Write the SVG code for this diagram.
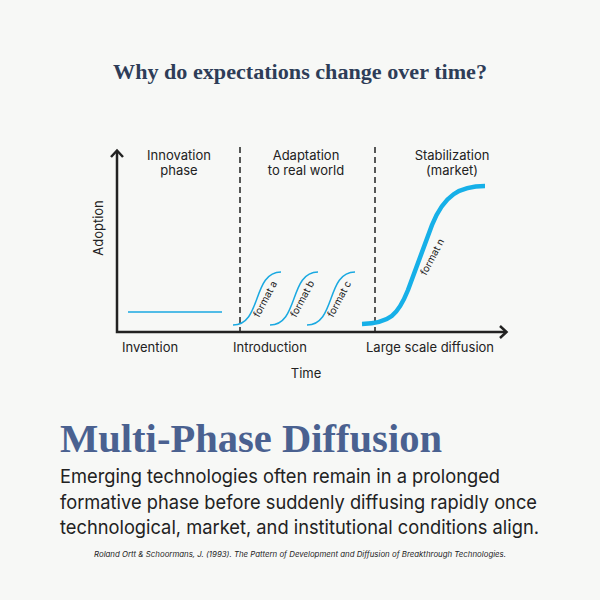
<svg xmlns="http://www.w3.org/2000/svg" width="600" height="600" viewBox="0 0 600 600">
<style>
.lbl{font-family:Inter,"Liberation Sans",sans-serif;font-size:13px;fill:#222;}
.fmt{font-family:Inter,"Liberation Sans",sans-serif;font-size:10px;fill:#222;}
.axis{stroke:#222;stroke-width:2.5;fill:none;}
.dash{stroke:#222;stroke-width:1.5;stroke-dasharray:6 4;fill:none;}
.thin{stroke:#1aa9e1;stroke-width:1.5;fill:none;}
.thick{stroke:#16b0e8;stroke-width:4.5;fill:none;stroke-linecap:butt;}
</style>
<rect width="600" height="600" fill="#f7f8f6"/>
<text x="300" y="79" text-anchor="middle" font-family="'Liberation Serif',serif" font-weight="bold" font-size="20" fill="#2e3d58" textLength="374" lengthAdjust="spacingAndGlyphs">Why do expectations change over time?</text>

<g id="connectors">
<path class="axis" d="M117,152 V332 H506"/>
<path class="axis" d="M111,157 L117,150.5 L123,157"/>
<path class="axis" d="M500,326 L506.5,332 L500,338"/>
<path class="dash" d="M240,147 V332"/>
<path class="dash" d="M375,147 V332"/>
</g>

<g id="phase-labels">
<text class="lbl" x="179" y="160" text-anchor="middle">Innovation</text>
<text class="lbl" x="179" y="175" text-anchor="middle">phase</text>
<text class="lbl" x="306" y="160" text-anchor="middle">Adaptation</text>
<text class="lbl" x="306" y="175" text-anchor="middle">to real world</text>
<text class="lbl" x="452" y="160" text-anchor="middle">Stabilization</text>
<text class="lbl" x="452" y="175" text-anchor="middle">(market)</text>
<text class="lbl" transform="translate(103,228) rotate(-90)" text-anchor="middle">Adoption</text>
<text class="lbl" x="122" y="352">Invention</text>
<text class="lbl" x="233" y="352">Introduction</text>
<text class="lbl" x="366" y="352">Large scale diffusion</text>
<text class="lbl" x="306" y="378" text-anchor="middle">Time</text>
</g>

<g id="invention-line">
<path class="thin" stroke-width="2" d="M128,312 H222"/>
</g>
<g id="format-a">
<path class="thin" d="M233,325 C262,325 252,272 281,272"/>
<text class="fmt" transform="translate(259,318) rotate(-62)">format a</text>
</g>
<g id="format-b">
<path class="thin" d="M270,325 C299,325 289,272 318,272"/>
<text class="fmt" transform="translate(296,318) rotate(-62)">format b</text>
</g>
<g id="format-c">
<path class="thin" d="M307,325 C336,325 326,272 355,272"/>
<text class="fmt" transform="translate(333,318) rotate(-62)">format c</text>
</g>
<g id="format-n">
<path class="thick" d="M362,324 C390,323 398,315 408,290 L432,225 C444,195 460,186 485,186"/>
<text class="fmt" transform="translate(426,276) rotate(-62)">format n</text>
</g>

<text x="60" y="452" font-family="'Liberation Serif',serif" font-weight="bold" font-size="40" fill="#4a6190" textLength="382" lengthAdjust="spacingAndGlyphs">Multi-Phase Diffusion</text>
<g font-family="Inter,'Liberation Sans',sans-serif" font-size="19" fill="#222">
<text x="60" y="483" textLength="440" lengthAdjust="spacingAndGlyphs">Emerging technologies often remain in a prolonged</text>
<text x="60" y="509" textLength="477" lengthAdjust="spacingAndGlyphs">formative phase before suddenly diffusing rapidly once</text>
<text x="60" y="534" textLength="479" lengthAdjust="spacingAndGlyphs">technological, market, and institutional conditions align.</text>
</g>
<text x="300" y="557" text-anchor="middle" font-family="Inter,'Liberation Sans',sans-serif" font-style="italic" font-size="7.5" fill="#222" textLength="412" lengthAdjust="spacingAndGlyphs">Roland Ortt &amp; Schoormans, J. (1993). The Pattern of Development and Diffusion of Breakthrough Technologies.</text>
</svg>
